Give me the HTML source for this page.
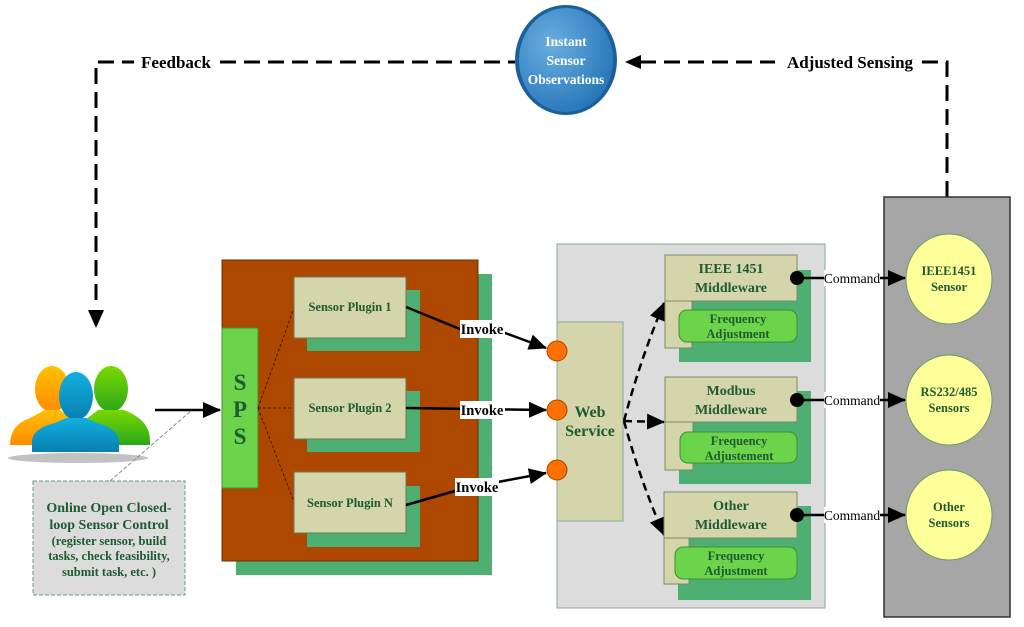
<!DOCTYPE html>
<html><head><meta charset="utf-8"><style>
html,body{margin:0;padding:0;background:#fff;width:1024px;height:627px;overflow:hidden}
svg{display:block}
text{font-family:"Liberation Serif",serif;font-weight:bold}
.g{fill:#1e5a32}
</style></head><body>
<svg width="1024" height="627" viewBox="0 0 1024 627" xmlns="http://www.w3.org/2000/svg">
<defs>
<marker id="ahb" markerWidth="18" markerHeight="16" refX="17" refY="8" orient="auto" markerUnits="userSpaceOnUse"><path d="M0,0 L18,8 L0,16 z" fill="#000"/></marker>
<radialGradient id="bl" cx="0.35" cy="0.35" r="0.8"><stop offset="0" stop-color="#6aaee0"/><stop offset="1" stop-color="#1f6fb4"/></radialGradient>
<linearGradient id="og" x1="0" y1="0" x2="0" y2="1"><stop offset="0" stop-color="#ffc000"/><stop offset="1" stop-color="#ff8c00"/></linearGradient>
<linearGradient id="gg" x1="0" y1="0" x2="0" y2="1"><stop offset="0" stop-color="#7ad800"/><stop offset="1" stop-color="#2aa81a"/></linearGradient>
<linearGradient id="bg" x1="0" y1="0" x2="0" y2="1"><stop offset="0" stop-color="#10b0e0"/><stop offset="1" stop-color="#0a7fb0"/></linearGradient>
</defs>

<g stroke="#000" stroke-width="3" fill="none" stroke-dasharray="16,8">
<path d="M96,300 L96,62 L134,62"/>
<line x1="220" y1="62" x2="515" y2="62"/>
<line x1="640" y1="62" x2="775" y2="62"/>
<path d="M922,62 L947,62 L947,197"/>
</g>
<path d="M88,310 L104,310 L96,328 z" fill="#000"/>
<path d="M625,62 L641,55 L641,69 z" fill="#000"/>
<text x="176" y="68" font-size="17" text-anchor="middle">Feedback</text>
<text x="850" y="68" font-size="17" text-anchor="middle">Adjusted Sensing</text>
<ellipse cx="566" cy="60" rx="51" ry="55" fill="#1d5f9c"/>
<ellipse cx="566" cy="60" rx="47" ry="52" fill="url(#bl)"/>
<text x="566" y="46" font-size="13.5" fill="#fff" text-anchor="middle">Instant</text>
<text x="566" y="65" font-size="13.5" fill="#fff" text-anchor="middle">Sensor</text>
<text x="566" y="84" font-size="13.5" fill="#fff" text-anchor="middle">Observations</text>

<ellipse cx="78" cy="458" rx="70" ry="5" fill="#999" opacity="0.6"/>
<ellipse cx="52" cy="389" rx="17" ry="23" fill="url(#og)"/>
<path d="M10,445 Q10,425 30,418 L45,410 L60,410 L72,420 L72,445 z" fill="url(#og)"/>
<ellipse cx="111" cy="389" rx="17" ry="23" fill="url(#gg)"/>
<path d="M85,420 L98,410 L124,410 Q150,420 150,440 L150,445 L85,445 z" fill="url(#gg)"/>
<ellipse cx="76" cy="396" rx="17" ry="24" fill="url(#bg)"/>
<path d="M32,452 L32,440 Q34,428 55,423 L66,418 L86,418 L97,423 Q117,428 119,440 L119,452 z" fill="url(#bg)"/>

<line x1="155" y1="410" x2="220" y2="410" stroke="#000" stroke-width="2.5" marker-end="url(#ahb)"/>
<line x1="110" y1="481" x2="192" y2="410" stroke="#888" stroke-width="1" stroke-dasharray="4,2"/>
<rect x="33" y="481" width="152" height="114" fill="#dcdcdc" stroke="#6a9a80" stroke-dasharray="4,2"/>
<g class="g" text-anchor="middle">
<text x="109" y="512" font-size="14">Online Open Closed-</text>
<text x="109" y="529" font-size="14">loop Sensor Control</text>
<text x="109" y="545" font-size="12.5">(register sensor, build</text>
<text x="109" y="560" font-size="12.5">tasks, check feasibility,</text>
<text x="109" y="576" font-size="12.5">submit task, etc. )</text>
</g>

<rect x="236" y="274" width="256" height="301" fill="#4daf72"/>
<rect x="222" y="260" width="256" height="301" fill="#ae4700" stroke="#6a3000"/>
<rect x="222" y="328" width="36" height="160" fill="#6cd44a" stroke="#3f8f30"/>
<g class="g" text-anchor="middle" font-size="23"><text x="240" y="390">S</text><text x="240" y="417">P</text><text x="240" y="444">S</text></g>
<g stroke="#3a1800" stroke-width="1" stroke-dasharray="3,2"><line x1="258" y1="408" x2="294" y2="308"/><line x1="258" y1="408" x2="294" y2="408"/><line x1="258" y1="408" x2="294" y2="502"/></g>
<rect x="307" y="290" width="113" height="61" fill="#4daf72"/>
<rect x="294" y="277" width="112" height="61" fill="#d5d5ab" stroke="#6a7a5a"/>
<rect x="307" y="391" width="113" height="61" fill="#4daf72"/>
<rect x="294" y="378" width="112" height="61" fill="#d5d5ab" stroke="#6a7a5a"/>
<rect x="307" y="486" width="113" height="61" fill="#4daf72"/>
<rect x="294" y="472" width="112" height="61" fill="#d5d5ab" stroke="#6a7a5a"/>
<g class="g" text-anchor="middle" font-size="12.5">
<text x="350" y="311">Sensor Plugin 1</text>
<text x="350" y="412">Sensor Plugin 2</text>
<text x="350" y="507">Sensor Plugin N</text>
</g>

<rect x="557" y="244" width="268" height="364" fill="#dcdcdc" stroke="#8aaa98"/>
<rect x="557" y="322" width="66" height="199" fill="#d5d5ab" stroke="#8aaa98"/>
<g class="g" text-anchor="middle" font-size="16"><text x="590" y="417">Web</text><text x="590" y="436">Service</text></g>

<g stroke="#000" stroke-width="2.5" fill="none">
<polyline points="406,307 460,329 505,333 546,348" marker-end="url(#ahb)"/>
<polyline points="406,408 546,410" marker-end="url(#ahb)"/>
<polyline points="406,505 455,491 498,482 546,473" marker-end="url(#ahb)"/>
</g>
<g font-size="14.5" text-anchor="middle">
<rect x="460" y="320" width="45" height="18" fill="#fff"/><text x="482" y="334">Invoke</text>
<rect x="460" y="401" width="45" height="18" fill="#fff"/><text x="482" y="415">Invoke</text>
<rect x="455" y="478" width="44" height="18" fill="#fff"/><text x="477" y="492">Invoke</text>
</g>
<g fill="#ff7000" stroke="#a04a00"><circle cx="557" cy="351" r="10"/><circle cx="557" cy="410" r="10"/><circle cx="557" cy="470" r="10"/></g>

<g stroke="#000" stroke-width="2.5" fill="none" stroke-dasharray="8,5">
<path d="M624,421 Q640,360 664,303" marker-end="url(#ahb)"/>
<line x1="624" y1="421" x2="664" y2="422" marker-end="url(#ahb)"/>
<path d="M624,421 Q640,480 664,535" marker-end="url(#ahb)"/>
</g>

<rect x="679" y="270" width="132" height="92" fill="#4daf72"/>
<rect x="665" y="300" width="27" height="48" fill="#d5d5ab" stroke="#7a8a6a"/>
<rect x="665" y="255" width="132" height="46" fill="#d5d5ab" stroke="#7a8a6a"/>
<rect x="679" y="310" width="118" height="32" rx="8" fill="#6cd44a" stroke="#3f8f30"/>
<rect x="679" y="391" width="132" height="93" fill="#4daf72"/>
<rect x="665" y="422" width="28" height="48" fill="#d5d5ab" stroke="#7a8a6a"/>
<rect x="665" y="377" width="132" height="45" fill="#d5d5ab" stroke="#7a8a6a"/>
<rect x="680" y="432" width="117" height="31" rx="8" fill="#6cd44a" stroke="#3f8f30"/>
<rect x="678" y="506" width="133" height="94" fill="#4daf72"/>
<rect x="664" y="538" width="25" height="46" fill="#d5d5ab" stroke="#7a8a6a"/>
<rect x="664" y="492" width="133" height="46" fill="#d5d5ab" stroke="#7a8a6a"/>
<rect x="675" y="547" width="122" height="32" rx="8" fill="#6cd44a" stroke="#3f8f30"/>
<g class="g" text-anchor="middle">
<text x="731" y="273" font-size="14">IEEE 1451</text><text x="731" y="292" font-size="14">Middleware</text>
<text x="738" y="323" font-size="12.5">Frequency</text><text x="738" y="338" font-size="12.5">Adjustment</text>
<text x="731" y="395" font-size="14">Modbus</text><text x="731" y="414" font-size="14">Middleware</text>
<text x="739" y="445" font-size="12.5">Frequency</text><text x="739" y="460" font-size="12.5">Adjustement</text>
<text x="731" y="510" font-size="14">Other</text><text x="731" y="529" font-size="14">Middleware</text>
<text x="736" y="560" font-size="12.5">Frequency</text><text x="736" y="575" font-size="12.5">Adjustment</text>
</g>

<rect x="884" y="197" width="126" height="420" fill="#a6a6a6" stroke="#333" stroke-width="1.5"/>
<g fill="#ffff99" stroke="#6a9a70"><ellipse cx="949" cy="279" rx="43" ry="45"/><ellipse cx="949" cy="400" rx="43" ry="45"/><ellipse cx="949" cy="515" rx="43" ry="45"/></g>
<g class="g" text-anchor="middle" font-size="12.5">
<text x="949" y="275">IEEE1451</text><text x="949" y="291">Sensor</text>
<text x="949" y="396">RS232/485</text><text x="949" y="412">Sensors</text>
<text x="949" y="511">Other</text><text x="949" y="527">Sensors</text>
</g>

<g stroke="#000" stroke-width="2.5">
<line x1="797" y1="278" x2="905" y2="278" marker-end="url(#ahb)"/>
<line x1="797" y1="400" x2="905" y2="400" marker-end="url(#ahb)"/>
<line x1="797" y1="515" x2="905" y2="515" marker-end="url(#ahb)"/>
</g>
<g fill="#000"><circle cx="797" cy="278" r="7"/><circle cx="797" cy="400" r="7"/><circle cx="797" cy="515" r="7"/></g>
<g font-size="13.5" text-anchor="middle">
<rect x="824" y="270" width="56" height="16" fill="#fff"/><text x="852" y="283" style="font-weight:normal">Command</text>
<rect x="824" y="392" width="56" height="16" fill="#fff"/><text x="852" y="405" style="font-weight:normal">Command</text>
<rect x="824" y="507" width="56" height="16" fill="#fff"/><text x="852" y="520" style="font-weight:normal">Command</text>
</g>
</svg>
</body></html>
